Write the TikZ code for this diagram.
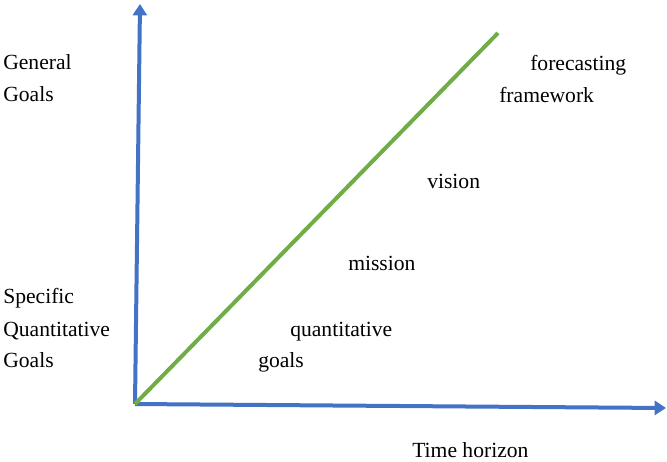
\documentclass[tikz,border=0pt]{standalone}
\usepackage{fontspec}
\setmainfont{Liberation Serif}
\usetikzlibrary{arrows.meta}
\definecolor{axisblue}{RGB}{68,114,196}
\definecolor{trendgreen}{RGB}{112,173,71}
\tikzset{
  axis/.style={draw=axisblue,line width=3pt,-{Triangle[length=8.5pt,width=10.5pt]}},
  trend/.style={draw=trendgreen,line width=3pt},
  label/.style={anchor=base west,inner sep=0pt,font=\fontsize{16.2}{19}\selectfont}
}
\begin{document}
\begin{tikzpicture}[x=0.75pt,y=-0.75pt]
\useasboundingbox (0,0) rectangle (667,461);
% axes, x right, y up
\coordinate (origin) at (135,404);
\coordinate (ytop) at (140,4);
\coordinate (xend) at (666,408);
\coordinate (trendend) at (498,33);
\draw[axis] (origin) -- (ytop);
\draw[axis] (origin) -- (xend);
\draw[trend] (origin) -- (trendend);
% left side labels
\node[label] (general) at (3,69) {General};
\node[label] (goalstop) at (3,101) {Goals};
\node[label] (specific) at (3,303) {Specific};
\node[label] (quantleft) at (3,336) {Quantitative};
\node[label] (goalsbot) at (3,367) {Goals};
% along the line
\node[label] (forecasting) at (530,70) {forecasting};
\node[label] (framework) at (499,102) {framework};
\node[label] (vision) at (427,188) {vision};
\node[label] (mission) at (348,270) {mission};
\node[label] (quantright) at (290,336) {quantitative};
\node[label] (goalsright) at (258,367) {goals};
% x axis title
\node[label] (time) at (412,457) {Time horizon};
\end{tikzpicture}
\end{document}
